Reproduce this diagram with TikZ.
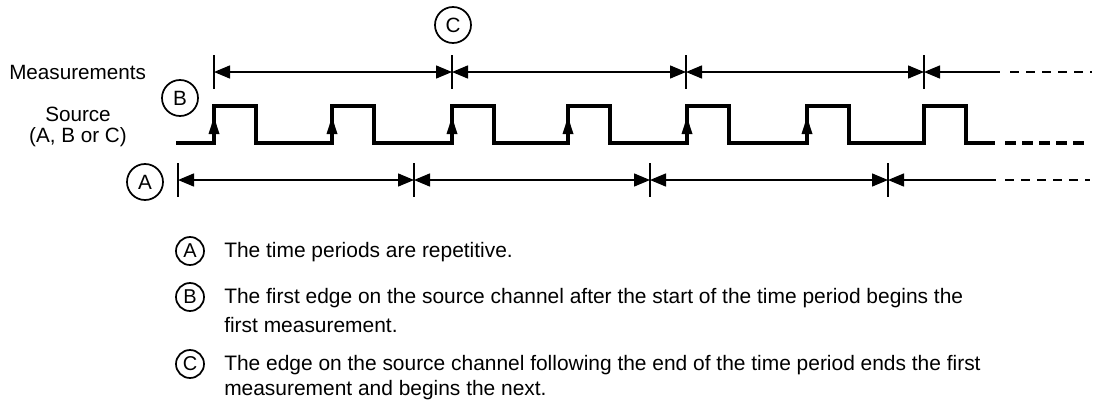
\documentclass[tikz,border=0pt]{standalone}
\usepackage{fontspec}
\setmainfont{Liberation Sans}
\usetikzlibrary{arrows.meta}

\tikzset{
  dim/.style={line width=1.1pt},
  tick/.style={line width=1.1pt},
  sig/.style={line width=2.6pt, line join=miter},
  dashthin/.style={dim, dash pattern=on 6.75pt off 5.25pt},
  dashthick/.style={sig, dash pattern=on 8.25pt off 4.5pt},
  letter/.style={draw, circle, line width=1.3pt, minimum size=27pt, inner sep=0pt,
    font=\fontsize{15.5}{16}\selectfont},
  keyletter/.style={letter, minimum size=21pt, font=\fontsize{15}{16}\selectfont},
  keytext/.style={anchor=west, inner sep=0pt, font=\fontsize{15.7}{19.5}\selectfont},
  rowlabel/.style={inner sep=0pt, align=center, font=\fontsize{15.5}{16}\selectfont},
}

\begin{document}
\begin{tikzpicture}[x=0.75pt, y=-0.75pt, >={Triangle[length=12pt,width=9.75pt]}]
  \useasboundingbox (0,0) rectangle (1101,400);

  % measurements row
  \node[rowlabel, anchor=west] (meas) at (9,72) {Measurements};
  \foreach \name/\x in {m1/214,m2/452,m3/686,m4/924,m5/1000,m6/1010,m7/1092}
    \coordinate (\name) at (\x,72);
  \foreach \name in {m1,m2,m3,m4}
    \draw[tick] (\name) ++(0,-17) -- ++(0,34);
  \foreach \a/\b in {m1/m2,m2/m3,m3/m4}
    \draw[dim,<->] (\a) -- (\b);
  \draw[dim,<-] (m4) -- (m5);
  \draw[dashthin] (m6) -- (m7);

  % source channel
  \node[rowlabel] (src) at (78,127) {Source\\(A, B or C)};
  \coordinate (s0) at (176,143);
  \coordinate (s1) at (995,143);
  \coordinate (s2) at (1005,143);
  \coordinate (s3) at (1090,143);
  \draw[sig] (s0)
    \foreach \x in {214,332,452,568,687,807,924} {
      -- (\x,143) -- (\x,106) -- (\x+42,106) -- (\x+42,143)
    } -- (s1);
  \draw[dashthick] (s2) -- (s3);
  \foreach \x in {214,332,452,568,687,807}
    \fill (\x-5.5,134) -- (\x+5.5,134) -- (\x,117) -- cycle;

  % time periods row
  \foreach \name/\x in {a1/178,a2/414,a3/650,a4/888,a5/996,a6/1005,a7/1090}
    \coordinate (\name) at (\x,180);
  \foreach \name in {a1,a2,a3,a4}
    \draw[tick] (\name) ++(0,-17) -- ++(0,34);
  \foreach \a/\b in {a1/a2,a2/a3,a3/a4}
    \draw[dim,<->] (\a) -- (\b);
  \draw[dim,<-] (a4) -- (a5);
  \draw[dashthin] (a6) -- (a7);

  % callouts
  \node[letter] (cA) at (145,182) {A};
  \node[letter] (cB) at (180,98) {B};
  \node[letter] (cC) at (453,25) {C};

  % key
  \node[keyletter] (kA) at (190,251) {A};
  \node[keyletter] (kB) at (190,297) {B};
  \node[keyletter] (kC) at (190,364) {C};
  \node[keytext] (tA) at (224,252) {The time periods are repetitive.};
  \node[keytext] (tB) at (224,298) {The first edge on the source channel after the start of the time period begins the};
  \node[keytext] (tB2) at (224,325) {first measurement.};
  \node[keytext] (tC) at (224,365) {The edge on the source channel following the end of the time period ends the first};
  \node[keytext] (tC2) at (224,390) {measurement and begins the next.};
\end{tikzpicture}
\end{document}
